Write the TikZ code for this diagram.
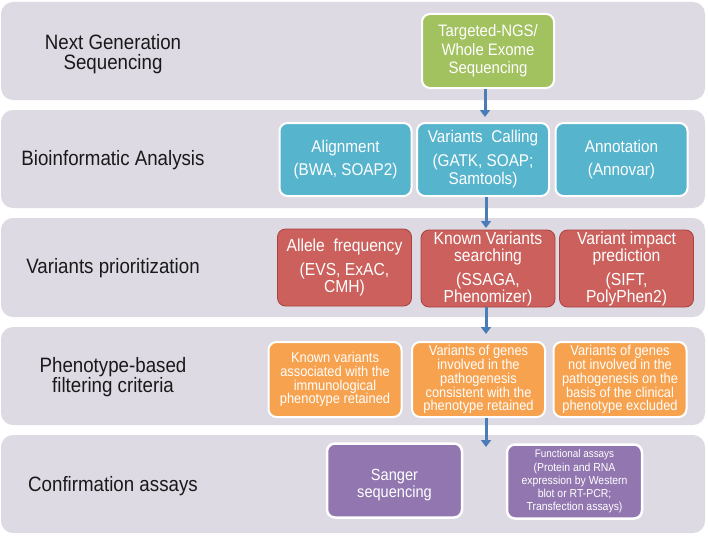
\documentclass[tikz,border=0pt]{standalone}
\usepackage{fontspec}
\setmainfont[FakeStretch=0.9]{Liberation Sans}
\usetikzlibrary{arrows.meta}
\definecolor{bandc}{HTML}{DDDAE4}
\definecolor{greenc}{HTML}{A2C15F}
\definecolor{tealc}{HTML}{56B4CD}
\definecolor{redc}{HTML}{CB605C}
\definecolor{redborder}{HTML}{A8423F}
\definecolor{orangec}{HTML}{F7A24F}
\definecolor{purplec}{HTML}{9176B0}
\definecolor{arrowc}{HTML}{4A7DB8}
\begin{document}
\begin{tikzpicture}[x=1pt,y=-1pt,
  band/.style={fill=bandc, draw=none, rounded corners=12pt},
  box/.style={rounded corners=8pt, draw=white, line width=2pt, inner sep=0pt, align=center, text=white},
  redbox/.style={box, fill=redc, draw=redborder, line width=0.8pt, minimum width=134pt, minimum height=77pt, font=\fontsize{17.4}{17}\selectfont},
  tealbox/.style={box, fill=tealc, minimum width=132pt, minimum height=73pt, font=\fontsize{17}{18.5}\selectfont},
  orbox/.style={box, fill=orangec, minimum width=133pt, minimum height=75pt, font=\fontsize{14.3}{13.8}\selectfont},
  purbox/.style={box, fill=purplec, line width=2.5pt, minimum width=135pt, minimum height=74pt},
  lbl/.style={align=center, font=\fontsize{20.8}{20.5}\selectfont, text=black!90},
  flow/.style={draw=arrowc, line width=3pt, -{Triangle[width=10pt,length=7pt]}}
]
\useasboundingbox (0,0) rectangle (708,535);
\fill[white] (0,0) rectangle (708,535);
% bands
\draw[band] (1,2) rectangle (705,100);
\draw[band] (1,110) rectangle (705,208);
\draw[band] (1,218) rectangle (705,317);
\draw[band] (1,327) rectangle (705,425);
\draw[band] (1,435) rectangle (705,533);
% left labels
\node[lbl] (l1) at (113,54) {Next Generation\\Sequencing};
\node[lbl] (l2) at (113,160) {Bioinformatic Analysis};
\node[lbl] (l3) at (113,268) {Variants prioritization};
\node[lbl] (l4) at (113,377) {Phenotype-based\\filtering criteria};
\node[lbl] (l5) at (113,486) {Confirmation assays};
% row 1
\node[box, fill=greenc, minimum width=132pt, minimum height=74pt, font=\fontsize{16.6}{18.5}\selectfont] (ngs) at (488,51) {Targeted-NGS/\\Whole Exome\\Sequencing};
% row 2
\node[tealbox] (align) at (345.5,159.5) {Alignment\\[5pt](BWA, SOAP2)};
\node[tealbox] (call) at (483,159.5) {Variants\ \ Calling\\[5pt](GATK, SOAP;\\Samtools)};
\node[tealbox] (annot) at (621.5,159.5) {Annotation\\[5pt](Annovar)};
% row 3
\node[redbox] (allele) at (344.5,267.5) {Allele\ \ frequency\\[7pt](EVS, ExAC,\\CMH)};
\node[redbox] (known) at (488,268.5) {Known Variants\\searching\\[7pt](SSAGA,\\Phenomizer)};
\node[redbox] (impact) at (626.5,268.5) {Variant impact\\prediction\\[7pt](SIFT,\\PolyPhen2)};
% row 4
\node[orbox] (f1) at (335,379.5) {Known variants\\associated with the\\immunological\\phenotype retained};
\node[orbox] (f2) at (478.5,379.5) {Variants of genes\\involved in the\\pathogenesis\\consistent with the\\phenotype retained};
\node[orbox] (f3) at (620,379.5) {Variants of genes\\not involved in the\\pathogenesis on the\\basis of the clinical\\phenotype excluded};
% row 5
\node[purbox, font=\fontsize{16.2}{17.5}\selectfont] (sanger) at (394.5,480.5) {\raisebox{-5pt}[\height][\depth]{\begin{tabular}{@{}c@{}}Sanger\\sequencing\end{tabular}}};
\node[purbox, font=\fontsize{11.6}{13}\selectfont] (func) at (574.5,481.5) {{\fontsize{11}{13}\selectfont Functional assays}\\[1pt](Protein and RNA\\expression by Western\\blot or RT-PCR;\\Transfection assays)};
% arrows
\coordinate (t1) at (485,117);
\coordinate (t2) at (486,228);
\coordinate (t3) at (486,334);
\coordinate (t4) at (486,447);
\draw[flow] (ngs.south -| t1) -- (t1);
\draw[flow] (call.south -| t2) -- (t2);
\draw[flow] (known.south -| t3) -- (t3);
\draw[flow] (f2.south -| t4) -- (t4);
\end{tikzpicture}
\end{document}
